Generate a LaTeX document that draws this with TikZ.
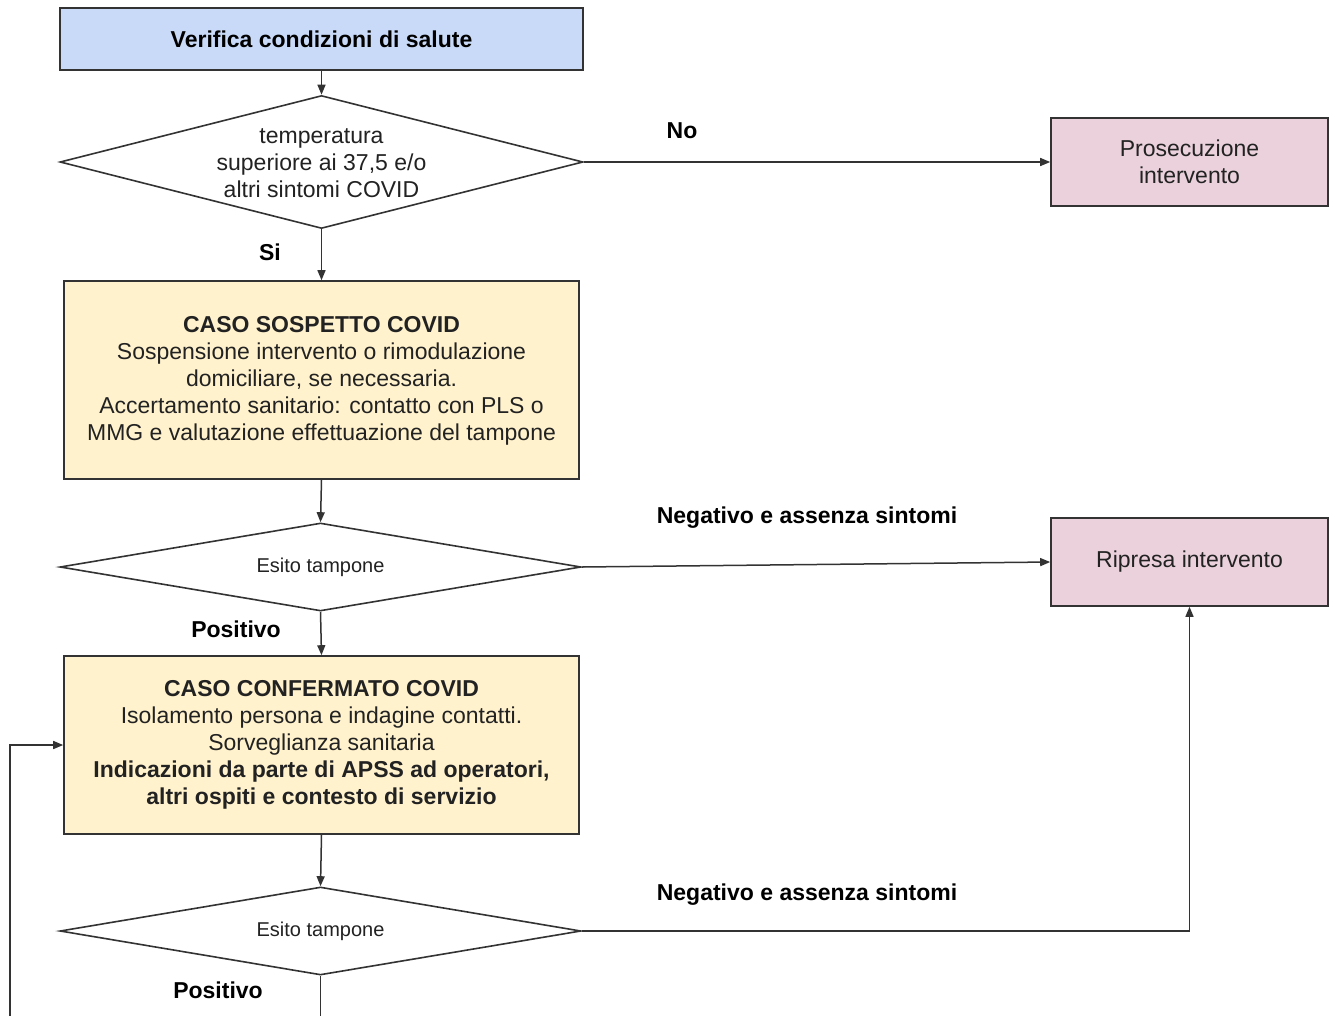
\documentclass[tikz,border=0pt]{standalone}
\usepackage{fontspec}
\setmainfont{Liberation Sans}
\usetikzlibrary{shapes.geometric,arrows.meta}
\definecolor{blueF}{HTML}{C9DAF8}
\definecolor{pinkF}{HTML}{EAD1DC}
\definecolor{yelF}{HTML}{FFF2CC}
\definecolor{lineC}{HTML}{333333}
\definecolor{txtC}{HTML}{222222}
\tikzset{
  x=1pt, y=-1pt,
  every node/.style={text=txtC, font=\fontsize{23}{27}\selectfont},
  boxS/.style={draw=lineC, line width=1.6pt, rectangle, align=center, inner sep=0pt},
  decS/.style={draw=lineC, line width=1.6pt, diamond, inner sep=0pt},
  lblS/.style={font=\fontsize{23}{27}\selectfont\bfseries, text=black},
  conn/.style={draw=lineC, line width=1.5pt, -{Triangle[length=10pt,width=8pt]}},
  plain/.style={draw=lineC, line width=1.5pt}
}
\begin{document}
\begin{tikzpicture}
\useasboundingbox[fill=white] (0,0) rectangle (1335,1015);
% nodes
\node[boxS, fill=blueF, minimum width=523, minimum height=62,
  font=\fontsize{23}{27}\selectfont\bfseries, text=black] (ver) at (321.5,39) {Verifica condizioni di salute};
\node[decS, minimum width=523, minimum height=133,
  label={[align=center, yshift=-1pt]center:temperatura\\superiore ai 37,5 e/o\\altri sintomi COVID}] (d1) at (321.5,162) {};
\node[boxS, fill=pinkF, minimum width=277, minimum height=88] (pros) at (1189.5,162) {Prosecuzione\\intervento};
\node[boxS, fill=yelF, minimum width=515, minimum height=198, text depth=4pt] (sosp) at (321.5,380)
  {\textbf{CASO SOSPETTO COVID}\\Sospensione intervento o rimodulazione\\domiciliare, se necessaria.\\Accertamento sanitario: contatto con PLS o\\MMG e valutazione effettuazione del tampone};
\node[decS, minimum width=521, minimum height=88,
  label={[font=\fontsize{20}{24}\selectfont]center:Esito tampone}] (d2) at (320.5,567) {};
\node[boxS, fill=pinkF, minimum width=277, minimum height=88] (rip) at (1189.5,562) {Ripresa intervento};
\node[boxS, fill=yelF, minimum width=515, minimum height=178] (conf) at (321.5,745)
  {\textbf{CASO CONFERMATO COVID}\\Isolamento persona e indagine contatti.\\Sorveglianza sanitaria\\\textbf{Indicazioni da parte di APSS ad operatori,}\\\textbf{altri ospiti e contesto di servizio}};
\node[decS, minimum width=521, minimum height=88,
  label={[font=\fontsize{20}{24}\selectfont]center:Esito tampone}] (d3) at (320.5,931) {};
\coordinate (botA) at (320.5,1016);
\coordinate (botL) at (10,1016);
% labels
\node[lblS] (lno) at (682,131) {No};
\node[lblS] (lsi) at (270,252) {Si};
\node[lblS] (ln1) at (807,518) {Negativo e assenza sintomi};
\node[lblS] (lp1) at (236,629) {Positivo};
\node[lblS] (ln2) at (807,895) {Negativo e assenza sintomi};
\node[lblS] (lp2) at (218,990) {Positivo};
% connectors
\draw[conn] (ver.south) -- (d1.north);
\draw[conn] (d1.east) -- (pros.west);
\draw[conn] (d1.south) -- (sosp.north);
\draw[conn] (sosp.south) -- (d2.north);
\draw[conn] (d2.east) -- (rip.west);
\draw[conn] (d2.south) -- (conf.north);
\draw[conn] (conf.south) -- (d3.north);
\draw[conn] (d3.east) -| (rip.south);
\draw[plain] (d3.south) -- (botA);
\draw[conn] (botL) |- (conf.west);
\end{tikzpicture}
\end{document}
